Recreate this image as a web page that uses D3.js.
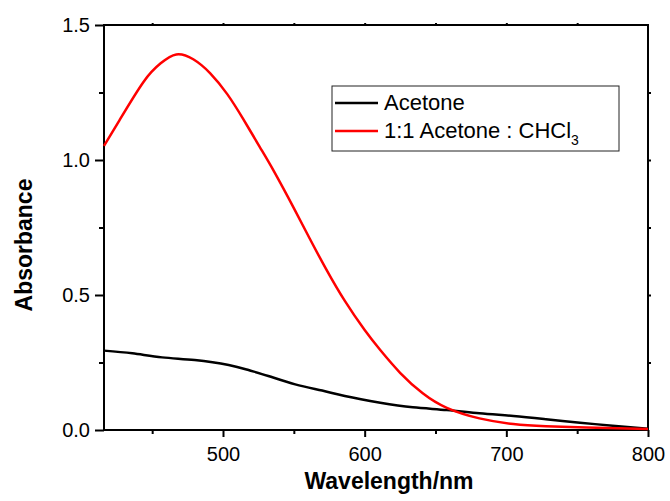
<!DOCTYPE html>
<html>
<head>
<meta charset="utf-8">
<script src="https://cdn.jsdelivr.net/npm/d3@7"></script>
<style>
  body { margin: 0; background: white; }
  text { font-family: "Liberation Sans", Arial, sans-serif; }
</style>
</head>
<body>
<div id="chart"></div>
<script>
// spectra (wavelength nm, absorbance)
var acetoneWl  = [416, 436, 457, 480, 504, 518, 532, 551, 570, 586, 611, 634, 658, 681, 705, 728, 752, 775, 800];
var acetoneAbs = [0.294, 0.284, 0.269, 0.259, 0.241, 0.222, 0.200, 0.169, 0.146, 0.126, 0.101, 0.084, 0.074, 0.062, 0.052, 0.040, 0.027, 0.016, 0.005];

var mixWl  = [416, 427, 444, 456, 467, 479, 491, 503, 514, 526, 536, 550, 561, 573, 586, 600, 611, 625, 641, 658, 681, 705, 728, 764, 800];
var mixAbs = [1.052, 1.148, 1.290, 1.358, 1.391, 1.373, 1.321, 1.244, 1.154, 1.048, 0.958, 0.822, 0.711, 0.594, 0.478, 0.370, 0.296, 0.212, 0.136, 0.082, 0.043, 0.022, 0.014, 0.008, 0.004];

var seriesNames = ["Acetone", "1:1 Acetone : CHCl"];
var seriesColors = ["#000000", "#ff0000"];

var xMajor = [500, 600, 700, 800];
var xMinor = [450, 550, 650, 750];
var yMajor = [0, 0.5, 1.0, 1.5];
var yMinor = [0.25, 0.75, 1.25];

var width = 670, height = 501;
var plotLeft = 104, plotRight = 648, plotTop = 25, plotBottom = 430;

var x = d3.scaleLinear().domain([416, 800]).range([plotLeft, plotRight]);
var y = d3.scaleLinear().domain([0, 1.5]).range([plotBottom, plotTop]);

var svg = d3.select("#chart").append("svg")
  .attr("width", width).attr("height", height)
  .style("background", "white");

function styleAxis(g) {
  g.select(".domain").remove();
  g.selectAll("line").attr("stroke", "#000").attr("stroke-width", 2);
  g.selectAll("text").attr("fill", "#000").style("font-size", "20px");
}

// left axis
svg.append("g").attr("transform", "translate(" + plotLeft + ",0)")
  .call(d3.axisLeft(y).tickValues(yMajor).tickFormat(d3.format(".1f")).tickSize(9).tickPadding(5))
  .call(styleAxis);
svg.append("g").attr("transform", "translate(" + plotLeft + ",0)")
  .call(d3.axisLeft(y).tickValues(yMinor).tickFormat("").tickSize(5))
  .call(styleAxis);

// bottom axis
svg.append("g").attr("transform", "translate(0," + plotBottom + ")")
  .call(d3.axisBottom(x).tickValues(xMajor).tickFormat(d3.format("d")).tickSize(7).tickPadding(10))
  .call(styleAxis);
svg.append("g").attr("transform", "translate(0," + plotBottom + ")")
  .call(d3.axisBottom(x).tickValues(xMinor).tickFormat("").tickSize(4))
  .call(styleAxis);

// top and right, small ticks only
svg.append("g").attr("transform", "translate(0," + plotTop + ")")
  .call(d3.axisTop(x).tickValues(xMajor.concat(xMinor).filter(function(d){ return d < 800; })).tickFormat("").tickSize(2))
  .call(styleAxis);
svg.append("g").attr("transform", "translate(" + plotRight + ",0)")
  .call(d3.axisRight(y).tickValues(yMajor.concat(yMinor).filter(function(d){ return d > 0 && d < 1.5; })).tickFormat("").tickSize(3))
  .call(styleAxis);

// frame
svg.append("rect")
  .attr("x", plotLeft).attr("y", plotTop)
  .attr("width", plotRight - plotLeft).attr("height", plotBottom - plotTop)
  .attr("fill", "none").attr("stroke", "#000").attr("stroke-width", 2);

var line = d3.line()
  .x(function(d) { return x(d[0]); })
  .y(function(d) { return y(d[1]); })
  .curve(d3.curveNatural);

var series = [d3.zip(acetoneWl, acetoneAbs), d3.zip(mixWl, mixAbs)];

svg.selectAll("path.spec")
  .data(series)
  .enter().append("path")
  .attr("class", "spec")
  .attr("d", line)
  .attr("fill", "none")
  .attr("stroke", function(d, i) { return seriesColors[i]; })
  .attr("stroke-width", 2.5)
  .attr("stroke-linejoin", "round");

// axis titles
svg.append("text")
  .attr("x", 389).attr("y", 489)
  .attr("text-anchor", "middle")
  .style("font-size", "23px").style("font-weight", "bold")
  .text("Wavelength/nm");

svg.append("text")
  .attr("transform", "translate(32,245) rotate(-90)")
  .attr("text-anchor", "middle")
  .style("font-size", "23px").style("font-weight", "bold")
  .text("Absorbance");

// legend
var legend = svg.append("g");
legend.append("rect")
  .attr("x", 332).attr("y", 86)
  .attr("width", 287).attr("height", 65)
  .attr("fill", "white").attr("stroke", "#222").attr("stroke-width", 1);

var rows = legend.selectAll("g.row")
  .data(seriesNames).enter().append("g")
  .attr("class", "row")
  .attr("transform", function(d, i) { return "translate(0," + (103 + i * 28) + ")"; });

rows.append("line")
  .attr("x1", 335).attr("x2", 378)
  .attr("stroke", function(d, i) { return seriesColors[i]; })
  .attr("stroke-width", 2.5);

var labels = rows.append("text")
  .attr("x", 384).attr("y", 7)
  .style("font-size", "22px")
  .text(function(d) { return d; });

labels.filter(function(d, i) { return i === 1; })
  .append("tspan")
  .attr("dy", 7)
  .style("font-size", "14px")
  .text("3");
</script>
</body>
</html>
